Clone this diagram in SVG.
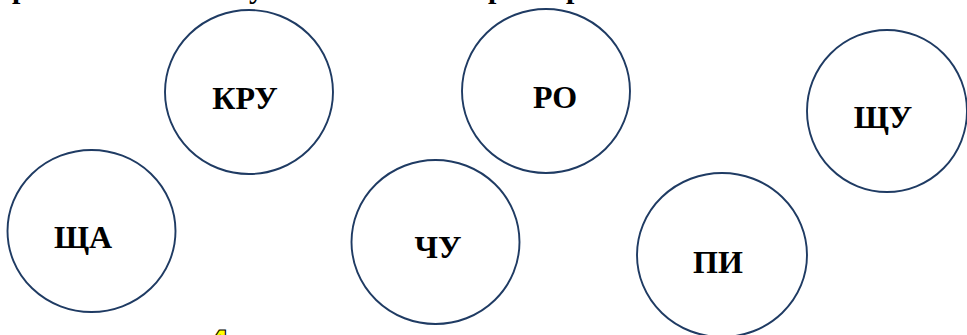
<svg xmlns="http://www.w3.org/2000/svg" width="967" height="335" viewBox="0 0 967 335">
<style>
.c{fill:#fff;stroke:#1f3b63;stroke-width:1.9}
.t{font-family:"Liberation Serif","Times New Roman",serif;font-weight:bold;font-size:32px;fill:#000;text-anchor:middle}
.top{font-family:"Liberation Serif","Times New Roman",serif;font-weight:bold;font-size:30px;fill:#000}
</style>
<rect width="967" height="335" fill="#fff"/>
<text class="top" y="-2"><tspan x="12">р</tspan><tspan x="249">у</tspan><tspan x="488">р</tspan><tspan x="566">р</tspan></text>
<g id="nodes">
<g id="n-kru"><ellipse class="c" cx="249" cy="92" rx="84" ry="82"/><text class="t" x="245" y="109">КРУ</text></g>
<g id="n-ro"><ellipse class="c" cx="546" cy="91" rx="84" ry="82"/><text class="t" x="555" y="108">РО</text></g>
<g id="n-schu"><ellipse class="c" cx="887" cy="111" rx="80" ry="81"/><text class="t" x="883" y="128">ЩУ</text></g>
<g id="n-scha"><ellipse class="c" cx="91.5" cy="231" rx="84" ry="81"/><text class="t" x="83" y="248">ЩА</text></g>
<g id="n-chu"><ellipse class="c" cx="435.5" cy="242" rx="84" ry="82"/><text class="t" x="438" y="258">ЧУ</text></g>
<g id="n-pi"><ellipse class="c" cx="722" cy="255" rx="85" ry="82"/><text class="t" x="718" y="273">ПИ</text></g>
</g>
<g id="connectors"></g>
<text x="207" y="358" font-family="Liberation Sans,Arial,sans-serif" font-weight="bold" font-size="40" fill="#ffff00" stroke="#000" stroke-width="1.2">4</text>
</svg>
